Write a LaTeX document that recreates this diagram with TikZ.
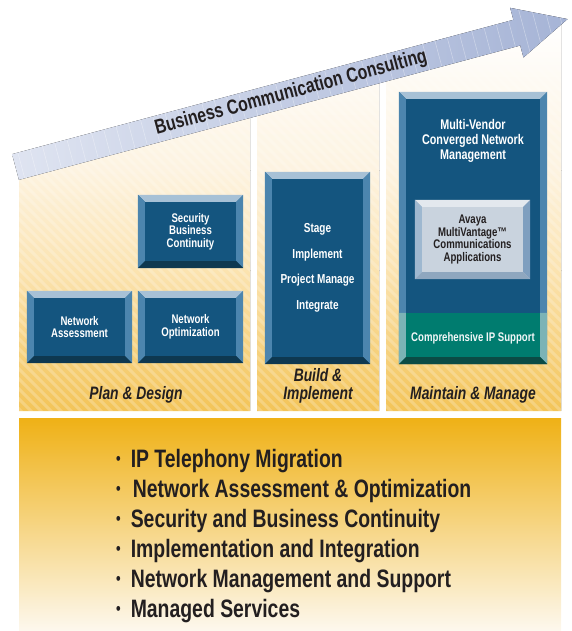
\documentclass[tikz,border=0pt]{standalone}
\usepackage{fontspec}
\setmainfont{Liberation Sans}[FakeStretch=0.77]
\usetikzlibrary{calc}

\definecolor{boxface}{HTML}{14557F}
\definecolor{bevtop}{HTML}{A7C1D6}
\definecolor{bevside}{HTML}{4C85AE}
\definecolor{bevbot}{HTML}{0E3850}
\definecolor{tealface}{HTML}{007C6F}
\definecolor{tealside}{HTML}{7BB3B6}
\definecolor{tealbot}{HTML}{0B4B45}
\definecolor{avface}{HTML}{C9D3DE}
\definecolor{avtop}{HTML}{E3E8EE}
\definecolor{avleft}{HTML}{9EB8D0}
\definecolor{avright}{HTML}{7F9FBF}
\definecolor{avbot}{HTML}{8FA7BF}
\definecolor{arrowlt}{HTML}{DFE4F1}
\definecolor{arrowdk}{HTML}{A6B4D6}
\definecolor{pgold}{HTML}{F3C458}
\definecolor{pcream}{HTML}{FBE3B0}
\definecolor{ppale}{HTML}{FDF3E0}
\definecolor{lgold}{HTML}{EFB116}
\definecolor{lpale}{HTML}{FDF8EE}
\definecolor{ink}{HTML}{231F20}

% bevelled edge round a box node
\newcommand{\bevel}[6]{%
  \fill[#2] (#1.north west) -- (#1.north east) -- ($(#1.north east)+(-#6,#6)$) -- ($(#1.north west)+(#6,#6)$) -- cycle;
  \fill[#3] (#1.north west) -- ($(#1.north west)+(#6,#6)$) -- ($(#1.south west)+(#6,-#6)$) -- (#1.south west) -- cycle;
  \fill[#4] (#1.north east) -- ($(#1.north east)+(-#6,#6)$) -- ($(#1.south east)+(-#6,-#6)$) -- (#1.south east) -- cycle;
  \fill[#5] (#1.south west) -- (#1.south east) -- ($(#1.south east)+(-#6,-#6)$) -- ($(#1.south west)+(#6,-#6)$) -- cycle;
}
\newcommand{\itm}[1]{{\fontsize{17}{17}\selectfont\raisebox{2.5pt}{•}}\hspace{10pt}#1}

\begin{document}
\begin{tikzpicture}[x=1pt,y=-1pt,
  bx/.style={fill=boxface,text=white,inner sep=0pt,align=center,
    font=\bfseries\fontsize{12.5}{12.5}\selectfont},
  phase/.style={text=ink,align=center,font=\bfseries\itshape\fontsize{18}{18}\selectfont},
  itemline/.style={anchor=base west,inner sep=0pt,text=ink,
    font=\bfseries\fontsize{25.2}{25.2}\selectfont}]
\useasboundingbox (0,0) rectangle (572,631);

% phase columns, tops hidden under the arrow
\begin{scope}
\clip (19,166) -- (250,104) -- (250,411) -- (19,411) -- cycle
      (257,102.3) -- (379,69.6) -- (379,411) -- (257,411) -- cycle
      (386,67.7) -- (561,20.8) -- (561,411) -- (386,411) -- cycle;
\fill[top color=white,bottom color=ppale] (0,20) rectangle (572,171);
\fill[top color=ppale,bottom color=pcream] (0,170) rectangle (572,271);
\fill[top color=pcream,bottom color=pgold] (0,270) rectangle (572,411);
\foreach \i in {-400,-390,...,560}
  \draw[white,opacity=0.22,line width=3pt] (\i,0) -- (\i+420,420);
\end{scope}

% services band
\fill[top color=lgold,bottom color=lpale] (19,418) rectangle (561,631);

% rising arrow
\begin{scope}[shift={(15.5,167)},rotate=15]
\fill[left color=arrowlt,right color=arrowdk]
  (0,-13.3) -- (519,-13.3) -- (519,-25.7) -- (571.5,0) -- (519,25.7) -- (519,13.3) -- (0,13.3) -- cycle;
\clip (0,-13.3) -- (519,-13.3) -- (519,-25.7) -- (571.5,0) -- (519,25.7) -- (519,13.3) -- (0,13.3) -- cycle;
\foreach \i in {6,18.7,...,571}
  \draw[white,opacity=0.35,line width=0.6pt] (\i,-30) -- (\i,30);
\end{scope}
\node[rotate=15,text=ink,font=\bfseries\fontsize{20.5}{20.5}\selectfont] (title) at (291,93)
  {Business Communication Consulting};

% plan & design
\node[bx,minimum width=105pt,minimum height=73pt] (sec) at (190.5,231.5) {Security\\Business\\Continuity};
\bevel{sec}{bevtop}{bevside}{bevside}{bevbot}{7}
\node[bx,minimum width=105pt,minimum height=72pt] (assess) at (79.5,327) {Network\\Assessment};
\bevel{assess}{bevtop}{bevside}{bevside}{bevbot}{7}
\node[bx,minimum width=105pt,minimum height=72pt] (optim) at (190.5,327) {Network\\Optimization};
\bevel{optim}{bevtop}{bevside}{bevside}{bevbot}{7}
\node[phase] (plan) at (136,395) {Plan \& Design};

% build & implement
\node[bx,minimum width=105pt,minimum height=192pt,font=\bfseries\fontsize{13}{25.5}\selectfont] (build) at (317.5,268)
  {Stage\\Implement\\Project Manage\\Integrate};
\bevel{build}{bevtop}{bevside}{bevside}{bevbot}{7}
\node[phase] (buildlbl) at (318,386) {Build \&\\Implement};

% maintain & manage
\node[bx,minimum width=148pt,minimum height=272pt] (mgmt) at (473,228) {};
\bevel{mgmt}{bevtop}{bevside}{bevside}{bevbot}{7}
\node[text=white,align=center,font=\bfseries\fontsize{14}{15}\selectfont] (mvtitle) at (473,141)
  {Multi-Vendor\\Converged Network\\Management};
\node[bx,fill=avface,text=ink,minimum width=115pt,minimum height=79pt] (avaya) at (472.5,239.5)
  {Avaya\\MultiVantage™\\Communications\\Applications};
\bevel{avaya}{avtop}{avleft}{avright}{avbot}{7}
\node[bx,fill=tealface,text=white!90!tealside,minimum width=148pt,minimum height=51pt] (support) at (473,338.5)
  {Comprehensive IP Support};
\fill[tealside] (support.north west) -- ($(support.north west)+(7,0)$) -- ($(support.south west)+(7,-7)$) -- (support.south west) -- cycle;
\fill[tealside] (support.north east) -- ($(support.north east)+(-7,0)$) -- ($(support.south east)+(-7,-7)$) -- (support.south east) -- cycle;
\fill[tealbot] (support.south west) -- (support.south east) -- ($(support.south east)+(-7,-7)$) -- ($(support.south west)+(7,-7)$) -- cycle;
\node[phase] (maint) at (473,395) {Maintain \& Manage};

% services list
\node[itemline] (l1) at (116,467) {\itm{IP Telephony Migration}};
\node[itemline] (l2) at (116,497) {\itm{\hspace{2pt}Network Assessment \& Optimization}};
\node[itemline] (l3) at (116,527) {\itm{Security and Business Continuity}};
\node[itemline] (l4) at (116,557) {\itm{Implementation and Integration}};
\node[itemline] (l5) at (116,587) {\itm{Network Management and Support}};
\node[itemline] (l6) at (116,617) {\itm{Managed Services}};
\end{tikzpicture}
\end{document}
